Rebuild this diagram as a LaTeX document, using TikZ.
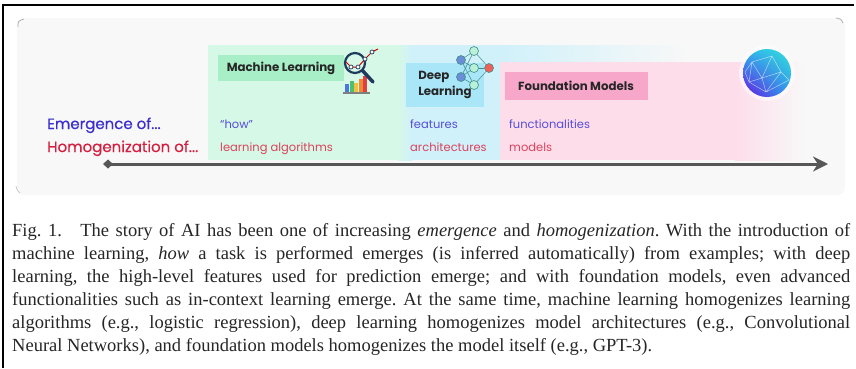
\documentclass[tikz,border=0pt]{standalone}
\usepackage{fontspec}
\setmainfont{Liberation Serif}
\newfontfamily\popfont{Poppins}
\newfontfamily\popmed[FakeBold=0.5]{Poppins}
\newfontfamily\capfont{Liberation Serif}
\usetikzlibrary{arrows.meta,positioning,shadings}

\definecolor{panel}{HTML}{F8F8F8}
\definecolor{mlbg}{HTML}{D6F8E6}
\definecolor{mlbox}{HTML}{A8EFC8}
\definecolor{dlbg}{HTML}{D0F1FA}
\definecolor{dlbox}{HTML}{A9E6F7}
\definecolor{fmbg}{HTML}{FDDDEA}
\definecolor{fmbox}{HTML}{F7A8CA}
\definecolor{emblue}{HTML}{3A2ED0}
\definecolor{hored}{HTML}{D42040}
\definecolor{arrowgray}{HTML}{575757}
\definecolor{navy}{HTML}{1E3A5C}
\definecolor{nnedge}{HTML}{3E8E8A}
\definecolor{nnblue}{HTML}{6A8FD8}
\definecolor{nngreen}{HTML}{B8F0D8}
\definecolor{nnred}{HTML}{F0605A}
\definecolor{barA}{HTML}{4A78E0}
\definecolor{barB}{HTML}{4CC070}
\definecolor{barC}{HTML}{F0C040}
\definecolor{barD}{HTML}{F08A30}
\definecolor{barE}{HTML}{E04040}
\definecolor{globeA}{HTML}{2AB6F0}
\definecolor{globeB}{HTML}{36E0D8}
\definecolor{globeC}{HTML}{6A10E0}
\definecolor{globeD}{HTML}{2A9CF0}

\begin{document}
\begin{tikzpicture}[x=1pt, y=-1pt,
    tag/.style={font=\popfont\bfseries\fontsize{11.8}{16}\selectfont, text=black!85, inner sep=0},
    rowhead/.style={font=\popmed\fontsize{15}{17}\selectfont, anchor=base west, inner sep=0},
    entry/.style={font=\popfont\fontsize{11.5}{13}\selectfont, anchor=base west, inner sep=0},
    neuron/.style={circle, draw=nnedge, line width=.6pt, minimum size=9pt, inner sep=0},
    timeline/.style={line width=3pt, draw=arrowgray, {Diamond[length=10pt,width=9pt]}-{Stealth[length=15pt,width=15pt]}}]

    \useasboundingbox (0,0) rectangle (856,368);
    \fill[white] (0,0) rectangle (856,368);
    % page frame
    \draw[line width=2.5pt] (2,5) -- (854,5);
    \draw[line width=2pt] (3,5) -- (3,368);

    % figure panel
    \fill[panel, rounded corners=8pt] (17,18) rectangle (845,195);
    \draw[gray!60, line width=.8pt] (18,27) .. controls (18,21) .. (24,19);
    \draw[gray!60, line width=.8pt] (836,18) .. controls (841,19) .. (843,23);
    \draw[gray!40, line width=.8pt] (16,186) .. controls (17,190) .. (20,193);

    % era bands
    \fill[mlbg] (208,45) rectangle (398,160);
    \shade[left color=mlbg, right color=dlbg] (398,45) rectangle (412,160);
    \fill[dlbg] (412,45) rectangle (500,160);
    \shade[left color=dlbg, right color=panel] (500,45) rectangle (690,62);
    \fill[fmbg] (500,62) rectangle (735,160);
    \shade[left color=fmbg, right color=panel] (735,62) rectangle (805,160);

    % era titles
    \node[tag, fill=mlbox, minimum width=126pt, minimum height=26pt] (ml) at (281,68) {Machine Learning};
    \node[tag, fill=dlbox, align=left, minimum width=78pt, minimum height=44pt] (dl) at (445,85) {Deep\\Learning};
    \node[tag, fill=fmbox, minimum width=143pt, minimum height=28pt] (fm) at (576,86) {Foundation Models};

    % bar chart under the lens
    \foreach \x/\top/\c in {345/84/barA, 349.5/81/barB, 354/83/barC, 358.5/79/barD, 363/76/barE}
        \fill[\c] (\x,\top) rectangle ++(4,92-\top);
    \draw[gray, line width=1.2pt] (343,93) -- (370,93);
    % lens
    \coordinate (lens) at (355,63);
    \draw[navy, line width=3.5pt, line cap=round] (362,70) -- (373,82);
    \fill[mlbg] (lens) circle (10);
    \draw[navy, line width=2.2pt] (lens) circle (10);
    \draw[red!80!black, line width=1pt] (346,62) -- (351,67) -- (358,67) -- (365,59) -- (372,52) -- (378,49);
    \foreach \p in {(351,67), (358,67), (365,59), (372,52)}
        \draw[navy, fill=white, line width=.7pt] \p circle (2);

    % small network
    \node[neuron, fill=nnblue] (b1) at (461,60) {};
    \node[neuron, fill=nnblue] (b2) at (461,77) {};
    \node[neuron, fill=nngreen] (g1) at (474,51) {};
    \node[neuron, fill=nngreen] (g2) at (474,68) {};
    \node[neuron, fill=nngreen] (g3) at (474,85) {};
    \node[neuron, fill=nnred] (out) at (489,68) {};
    \foreach \i in {b1,b2}
        \foreach \j in {g1,g2,g3}
            \draw[nnedge, line width=.5pt] (\i) -- (\j);
    \foreach \j in {g1,g2,g3}
        \draw[nnedge, line width=.5pt] (\j) -- (out);

    % globe
    \coordinate (globe) at (767,73);
    \fill[white, opacity=.5] (globe) circle (28);
    \shade[upper left=globeA, upper right=globeB, lower left=globeC, lower right=globeD] (globe) circle (24);
    \draw[white, opacity=.6, line width=.5pt] (752,62) -- (772,56) -- (781,72) -- (766,92) -- (749,82) -- cycle
        (752,62) -- (762,78) -- (772,56) (762,78) -- (781,72) (762,78) -- (766,92) (762,78) -- (749,82)
        (745,72) -- (752,62) (745,72) -- (749,82) (781,72) -- (789,80) -- (766,92);

    % row headers
    \node[rowhead, text=emblue] (em) at (47,129) {Emergence of...};
    \node[rowhead, text=hored] (ho) at (47,152) {Homogenization of...};

    % what emerges / what is homogenized
    \node[entry, text=emblue!85] (how) at (220,128) {“how”};
    \node[entry, text=hored!85] (algo) at (220,151) {learning algorithms};
    \node[entry, text=emblue!85] (feat) at (410,128) {features};
    \node[entry, text=hored!85] (arch) at (410,151) {architectures};
    \node[entry, text=emblue!85] (func) at (509,128) {functionalities};
    \node[entry, text=hored!85] (mod) at (509,151) {models};

    % time axis
    \coordinate (t0) at (103,164);
    \coordinate (t1) at (828,164);
    \draw[timeline] (t0) -- (t1);

    % caption
    \node[anchor=north west, inner sep=0, text width=838pt, align=justify,
          font=\capfont\fontsize{18.5}{23}\selectfont\frenchspacing, text=black!85] (cap) at (12,223)
    {Fig.~1.\quad The story of AI has been one of increasing \emph{emergence} and \emph{homogenization}. With the introduction of\linebreak
    machine learning, \emph{how} a task is performed emerges (is inferred automatically) from examples; with deep\linebreak
    learning, the high-level features used for prediction emerge; and with foundation models, even advanced\linebreak
    functionalities such as in-context learning emerge. At the same time, machine learning homogenizes learning\linebreak
    algorithms (e.g., logistic regression), deep learning homogenizes model architectures (e.g., Convolutional\linebreak
    Neural Networks), and foundation models homogenizes the model itself (e.g., GPT-3).};
\end{tikzpicture}
\end{document}
